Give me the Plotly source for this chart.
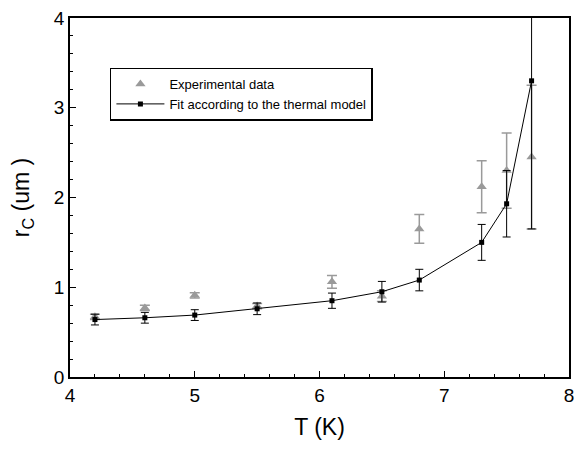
import plotly.graph_objects as go

# Temperature points (K)
T = [4.2, 4.6, 5.0, 5.5, 6.1, 6.5, 6.8, 7.3, 7.5, 7.7]

# Measured critical radius (um) and its uncertainty
r_exp = [0.67, 0.77, 0.91, 0.79, 1.06, 0.90, 1.65, 2.12, 2.30, 2.45]
r_exp_err = [0.03, 0.03, 0.03, 0.03, 0.07, 0.06, 0.16, 0.29, 0.42, 0.80]

# Thermal-model fit values (um) and their uncertainty
r_fit = [0.64, 0.66, 0.69, 0.76, 0.85, 0.95, 1.08, 1.50, 1.93, 3.30]
r_fit_err = [0.06, 0.06, 0.06, 0.065, 0.085, 0.115, 0.12, 0.20, 0.37, 1.65]

gray = "#9a9a9a"
font_family = "Liberation Sans, Arial, sans-serif"

fig = go.Figure()

fig.add_trace(go.Scatter(
    x=T, y=r_exp, mode="markers", name="Experimental data",
    marker=dict(symbol="triangle-up", size=9, color=gray),
    error_y=dict(type="data", array=r_exp_err, color=gray,
                 thickness=1.5, width=5),
))

fig.add_trace(go.Scatter(
    x=T, y=r_fit, mode="lines+markers",
    name="Fit according to the thermal model",
    line=dict(color="black", width=1),
    marker=dict(symbol="square", size=5, color="black"),
    error_y=dict(type="data", array=r_fit_err, color="black",
                 thickness=1, width=4),
))

axis_common = dict(
    showline=True, linecolor="black", linewidth=1.5, mirror=True,
    ticks="inside", ticklen=6, tickcolor="black", tickwidth=1.2,
    showgrid=False, zeroline=False,
    tickfont=dict(family=font_family, size=19, color="black"),
)

fig.update_xaxes(
    range=[4, 8], dtick=1, tick0=4,
    minor=dict(dtick=0.2, ticks="inside", ticklen=3, tickcolor="black"),
    title=dict(text="T (K)", font=dict(family=font_family, size=23, color="black"),
               standoff=14),
    **axis_common,
)
fig.update_yaxes(
    range=[0, 4], dtick=1, tick0=0,
    minor=dict(dtick=0.2, ticks="inside", ticklen=3, tickcolor="black"),
    title=dict(text="r<sub>C</sub> (um )",
               font=dict(family=font_family, size=23, color="black"),
               standoff=18),
    **axis_common,
)

fig.update_layout(
    width=580, height=452,
    margin=dict(l=70, r=6, t=18, b=75),
    paper_bgcolor="white", plot_bgcolor="white",
    showlegend=True,
    legend=dict(
        x=0.08, y=0.862, xanchor="left", yanchor="top",
        bgcolor="white", bordercolor="black", borderwidth=1.5,
        font=dict(family=font_family, size=13, color="black"),
        tracegroupgap=0, itemwidth=48,
    ),
)

fig.write_html("out.html")
